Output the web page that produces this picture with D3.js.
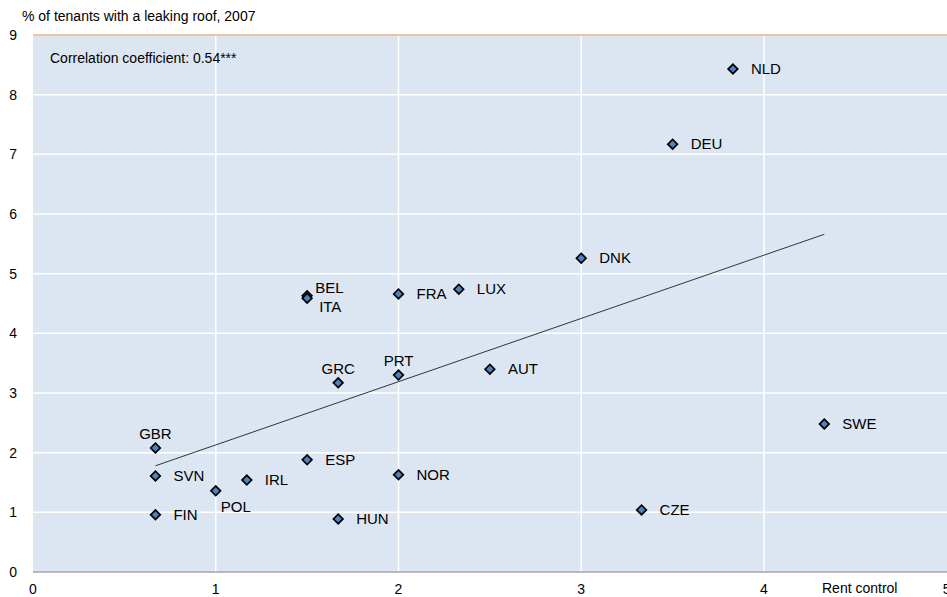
<!DOCTYPE html>
<meta charset="utf-8">
<style>
    body { margin: 0; background: #fff; }
    svg text { font-family: "Liberation Sans", Arial, sans-serif; fill: #000; }
</style>
<svg width="947" height="597"></svg>
<script src="https://cdn.jsdelivr.net/npm/d3@7"></script>
<script>
    var countries   = ["NLD","DEU","DNK","LUX","FRA","BEL","ITA","AUT","PRT","GRC","SWE","GBR","ESP","NOR","SVN","IRL","POL","CZE","FIN","HUN"];
    var rentControl = [3.83, 3.5, 3.0, 2.33, 2.0, 1.5, 1.5, 2.5, 2.0, 1.67, 4.33, 0.67, 1.5, 2.0, 0.67, 1.17, 1.0, 3.33, 0.67, 1.67];
    var leakingRoof = [8.43, 7.17, 5.26, 4.74, 4.66, 4.63, 4.59, 3.40, 3.30, 3.17, 2.48, 2.08, 1.88, 1.63, 1.61, 1.54, 1.36, 1.04, 0.96, 0.89];
    // where each label sits relative to its marker
    var labelSide   = ["right","right","right","right","right","bel","ita","right","above","above","right","above","right","right","right","right","below","right","right","right"];
    var trendX = [0.67, 4.33];
    var trendY = [1.78, 5.66];
    var xTicks = [0, 1, 2, 3, 4, 5];
    var yTicks = [0, 1, 2, 3, 4, 5, 6, 7, 8, 9];

    var svg = d3.select("svg"),
        margin = {top: 35, left: 33, right: 0, bottom: 25},
        width = +svg.attr("width") - margin.left - margin.right,
        height = +svg.attr("height") - margin.top - margin.bottom;

    var x = d3.scaleLinear().domain([0, 5]).range([margin.left, margin.left + 182.75 * 5]);
    var y = d3.scaleLinear().domain([0, 9]).range([margin.top + height, margin.top]);

    svg.append("rect")
        .attr("x", margin.left).attr("y", margin.top)
        .attr("width", width).attr("height", height)
        .attr("fill", "#dce6f2");

    // gridlines
    svg.append("g").selectAll("line").data(yTicks.slice(1, -1)).enter().append("line")
        .attr("x1", margin.left).attr("x2", margin.left + width)
        .attr("y1", d => y(d)).attr("y2", d => y(d))
        .attr("stroke", "#fff").attr("stroke-width", 1.5);
    svg.append("g").selectAll("line").data(xTicks.slice(1, -1)).enter().append("line")
        .attr("x1", d => x(d)).attr("x2", d => x(d))
        .attr("y1", margin.top).attr("y2", margin.top + height)
        .attr("stroke", "#fff").attr("stroke-width", 1.5);

    svg.append("line")
        .attr("x1", margin.left).attr("x2", margin.left + width)
        .attr("y1", y(9)).attr("y2", y(9))
        .attr("stroke", "#f5b183").attr("stroke-width", 1.5);
    svg.append("line")
        .attr("x1", margin.left).attr("x2", margin.left + width)
        .attr("y1", y(0)).attr("y2", y(0))
        .attr("stroke", "#a6a6a6").attr("stroke-width", 1.5);

    // tick labels
    svg.append("g").selectAll("text").data(yTicks).enter().append("text")
        .attr("x", 17).attr("y", d => y(d) + 5)
        .attr("text-anchor", "end").attr("font-size", 14)
        .text(d => d);
    svg.append("g").selectAll("text").data(xTicks).enter().append("text")
        .attr("x", d => x(d)).attr("y", 594)
        .attr("text-anchor", "middle").attr("font-size", 14)
        .text(d => d);

    svg.append("text").attr("x", 22).attr("y", 21).attr("font-size", 14)
        .text("% of tenants  with  a leaking  roof, 2007");
    svg.append("text").attr("x", 822).attr("y", 593).attr("font-size", 14)
        .text("Rent  control");
    svg.append("text").attr("x", 50).attr("y", 63).attr("font-size", 14)
        .text("Correlation  coefficient: 0.54***");

    // trend line
    svg.append("line")
        .attr("x1", x(trendX[0])).attr("y1", y(trendY[0]))
        .attr("x2", x(trendX[1])).attr("y2", y(trendY[1]))
        .attr("stroke", "#333").attr("stroke-width", 1);

    var pts = countries.map((c, i) => ({c: c, x: rentControl[i], y: leakingRoof[i], side: labelSide[i]}));

    svg.append("g").selectAll("path").data(pts).enter().append("path")
        .attr("d", d3.symbol().type(d3.symbolSquare).size(46))
        .attr("transform", d => "translate(" + x(d.x) + "," + y(d.y) + ") rotate(45)")
        .attr("fill", "#4f81bd").attr("stroke", "#000").attr("stroke-width", 1.7);

    var off = {
        right: [18, 5, "start"],
        above: [0, -9, "middle"],
        below: [5, 21, "start"],
        bel:   [8, -3, "start"],
        ita:   [12, 14, "start"]
    };
    svg.append("g").selectAll("text").data(pts).enter().append("text")
        .attr("x", d => x(d.x) + off[d.side][0])
        .attr("y", d => y(d.y) + off[d.side][1])
        .attr("text-anchor", d => off[d.side][2])
        .attr("font-size", 15).attr("fill", "#222")
        .text(d => d.c);
</script>
